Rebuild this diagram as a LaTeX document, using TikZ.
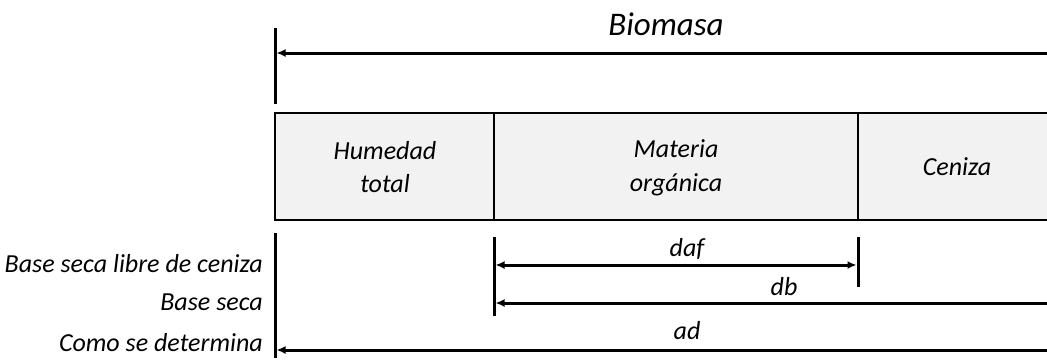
\documentclass[tikz,border=0pt]{standalone}
\usepackage{fontspec}
\setmainfont{Carlito}
\usetikzlibrary{arrows.meta}
\definecolor{grisclaro}{HTML}{F2F2F2}
\tikzset{
  cota/.style={line width=3pt, -{Latex[length=9pt,width=8pt]}},
  cotadoble/.style={line width=3pt, {Latex[length=9pt,width=8pt]}-{Latex[length=9pt,width=8pt]}},
  marca/.style={line width=3pt},
  texto/.style={font=\fontsize{26}{33.5}\selectfont\itshape, align=center, inner sep=0pt},
}

\begin{document}
\begin{tikzpicture}[x=1pt, y=-1pt]
		%%%%% START %%%%%
		\useasboundingbox (0,0) rectangle (1047,360);
		\clip (0,0) rectangle (1047,360);
		
		% biomasa total
		\node[texto, font=\fontsize{33}{40}\selectfont\itshape] (biomasa) at (666,24) {Biomasa};
		\coordinate (bio-a) at (275,28);
		\coordinate (bio-b) at (275,104);
		\coordinate (bio-i) at (276.5,53);
		\coordinate (bio-d) at (1060,53);
		\draw[marca] (bio-a) -- (bio-b);
		\draw[cota] (bio-d) -- (bio-i);
		
		% barra de componentes
		\draw[fill=grisclaro, line width=2.5pt] (275,113) rectangle (1070,220);
		\draw[line width=1.8pt] (494,113) -- (494,220);
		\draw[line width=1.8pt] (858,113) -- (858,220);
		\node[texto] (humedad) at (385,167) {Humedad\\total};
		\node[texto] (materia) at (676,168) {Materia\\orgánica};
		\node[texto] (ceniza) at (957,167) {Ceniza};
		
		% marcas inferiores
		\coordinate (ad-a) at (275,233);
		\coordinate (ad-b) at (275,358);
		\coordinate (db-a) at (494,237);
		\coordinate (db-b) at (494,316);
		\coordinate (daf-a) at (858,237);
		\coordinate (daf-b) at (858,287);
		\draw[marca] (ad-a) -- (ad-b);
		\draw[marca] (db-a) -- (db-b);
		\draw[marca] (daf-a) -- (daf-b);
		
		% bases de calculo
		\coordinate (daf-i) at (495.5,265);
		\coordinate (daf-d) at (856.5,265);
		\coordinate (db-i) at (495.5,303);
		\coordinate (db-d) at (1060,303);
		\coordinate (ad-i) at (276.5,350);
		\coordinate (ad-d) at (1060,350);
		\draw[cotadoble] (daf-i) -- (daf-d);
		\draw[cota] (db-d) -- (db-i);
		\draw[cota] (ad-d) -- (ad-i);
		\node[texto] (daf) at (687,249) {daf};
		\node[texto] (db) at (784,287) {db};
		\node[texto] (ad) at (687,331) {ad};
		
		\node[texto, anchor=east] (bslc) at (263,264) {Base seca libre de ceniza};
		\node[texto, anchor=east] (bs) at (263,302) {Base seca};
		\node[texto, anchor=east] (csd) at (263,343) {Como se determina};
		%%%%% END %%%%%
\end{tikzpicture}
\end{document}
